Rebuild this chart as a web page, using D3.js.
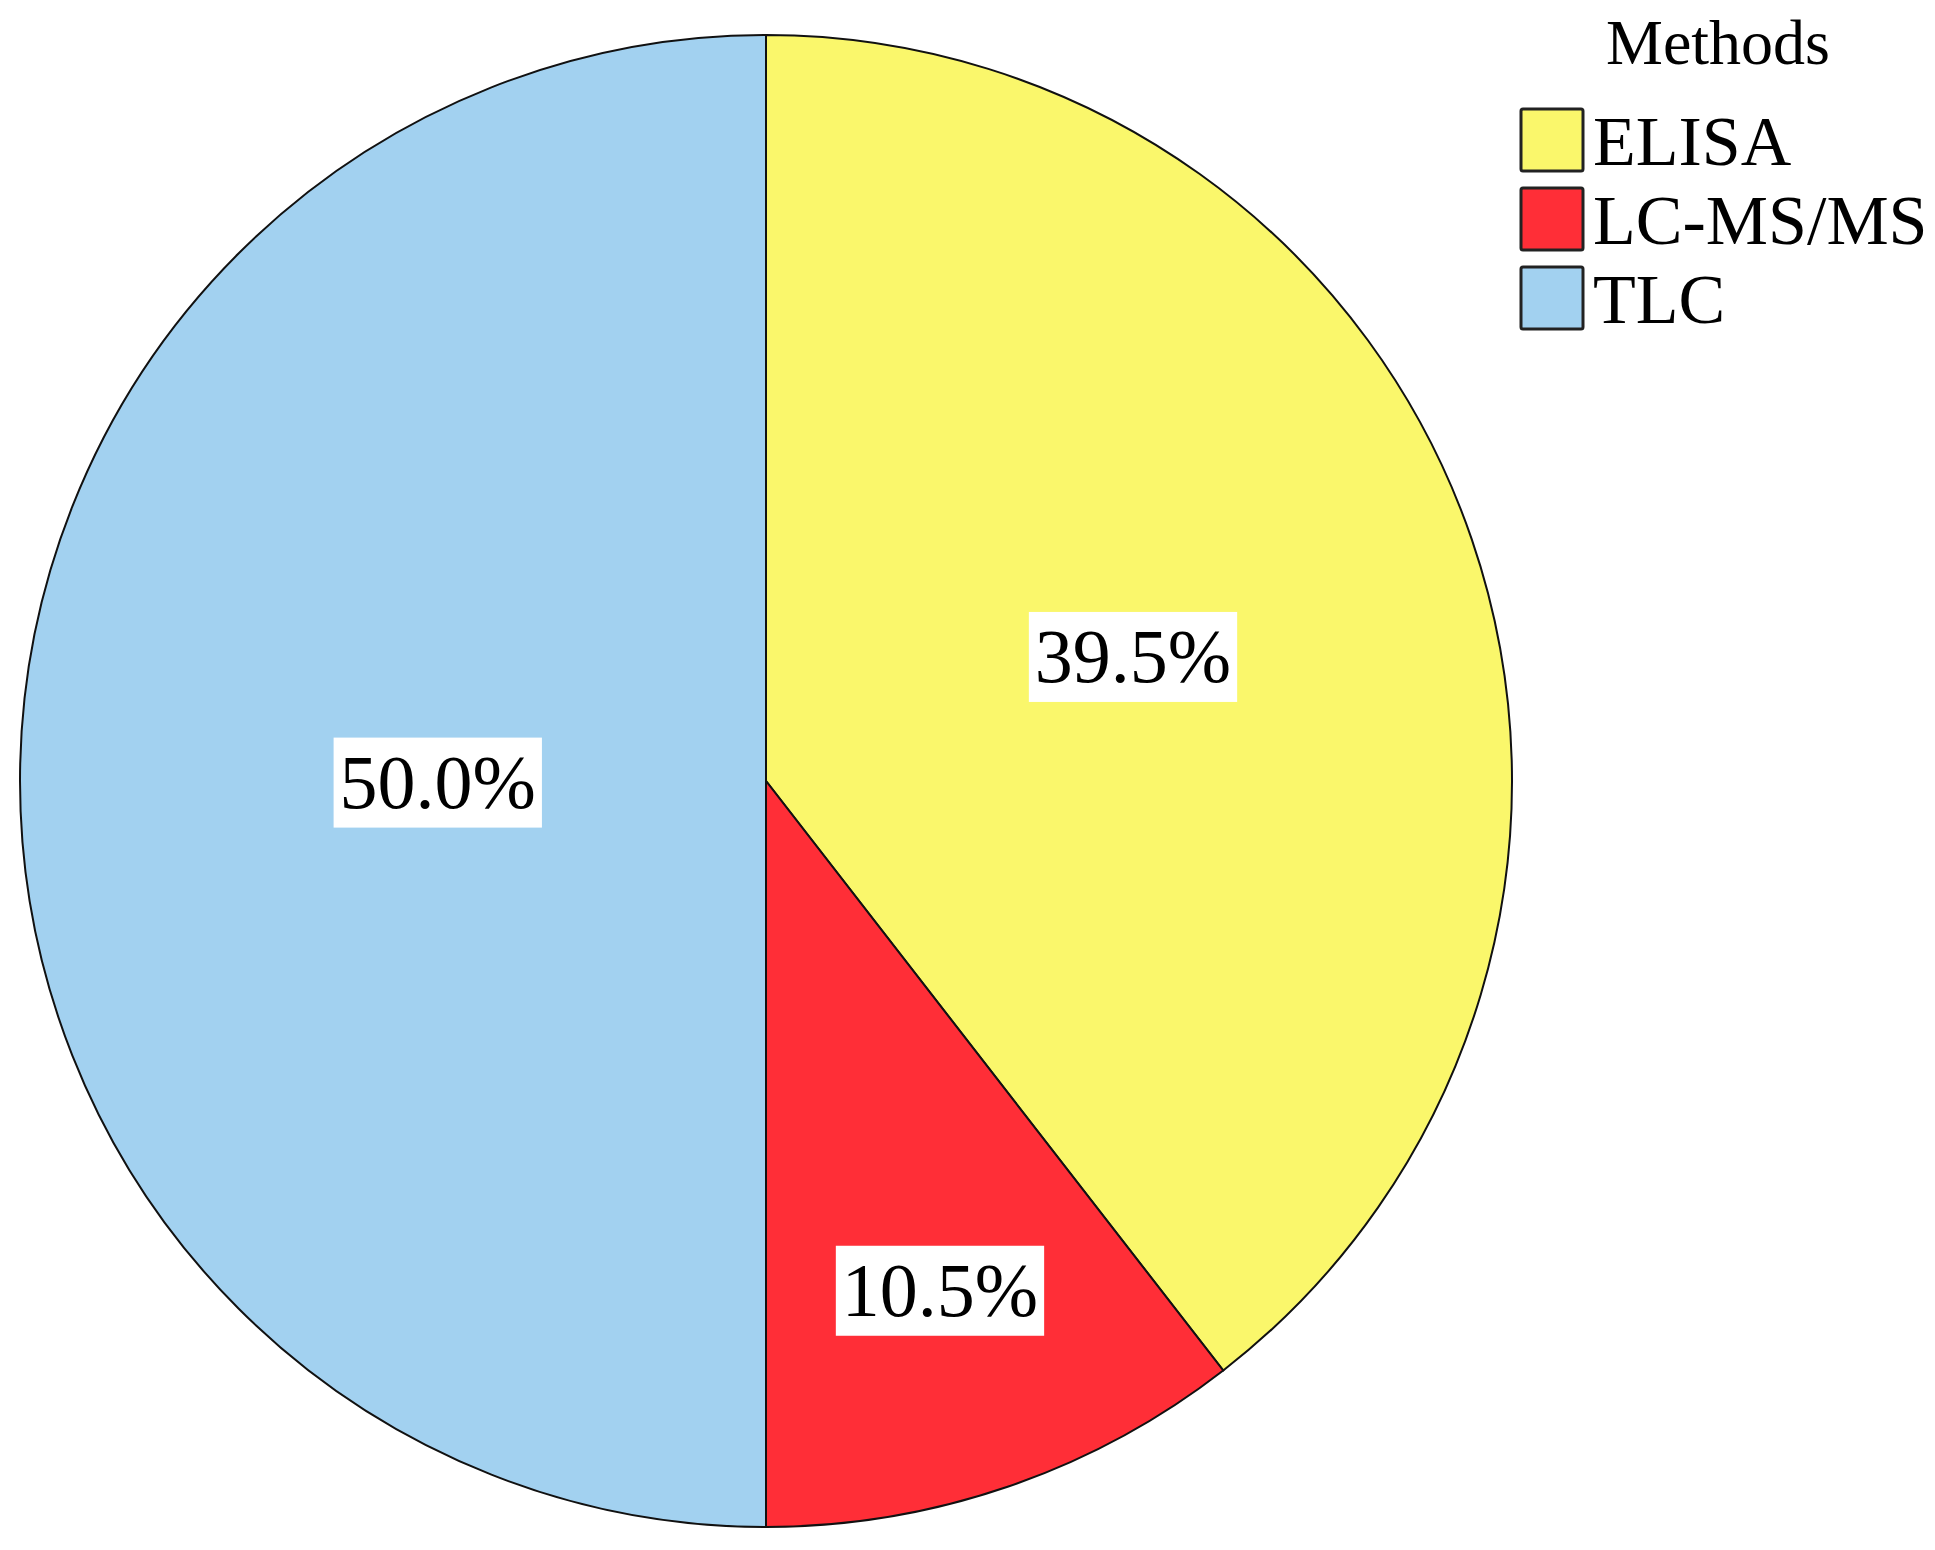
<!DOCTYPE html>
<html><head><meta charset="utf-8">
<script src="https://d3js.org/d3.v7.min.js"></script>
<style>body{margin:0;background:#fff}</style>
</head><body>
<script>
// Methods pie chart
const methods = ['ELISA', 'LC-MS/MS', 'TLC'];
const shares = [39.5, 10.5, 50.0];
const colors = ['#FAF76B', '#FF2E37', '#A2D1F0'];

const width = 1935, height = 1550;
const cx = 766, cy = 781, radius = 746;
const font = '"Liberation Serif", "Times New Roman", serif';

const svg = d3.select('body').append('svg')
    .attr('width', width)
    .attr('height', height);

const data = methods.map((m, i) => ({ method: m, value: shares[i], color: colors[i] }));
const pie = d3.pie().value(d => d.value).sort(null);
const arcs = pie(data);
const arc = d3.arc().innerRadius(0).outerRadius(radius);

const g = svg.append('g').attr('transform', `translate(${cx},${cy})`);

g.selectAll('path')
    .data(arcs)
    .join('path')
    .attr('d', arc)
    .attr('fill', d => d.data.color)
    .attr('stroke', '#111')
    .attr('stroke-width', 2);

// label positions (fraction of radius along slice bisector)
const labelRadius = [0.52, 0.72, 0.44];
const labels = g.selectAll('g.label')
    .data(arcs)
    .join('g')
    .attr('class', 'label')
    .attr('transform', (d, i) => {
        const a = (d.startAngle + d.endAngle) / 2;
        const r = radius * labelRadius[i];
        return `translate(${Math.sin(a) * r},${-Math.cos(a) * r})`;
    });

labels.each(function(d) {
    const sel = d3.select(this);
    const rect = sel.append('rect').attr('fill', '#fff');
    const t = sel.append('text')
        .attr('text-anchor', 'middle')
        .attr('dy', '0.35em')
        .style('font-family', font)
        .style('font-size', '76px')
        .text(d3.format('.1f')(d.data.value) + '%');
    const b = t.node().getBBox();
    rect.attr('x', b.x - 6).attr('y', b.y - 2)
        .attr('width', b.width + 12).attr('height', b.height + 6);
});

// legend
const legend = svg.append('g');
legend.append('text')
    .attr('x', 1718).attr('y', 64)
    .attr('text-anchor', 'middle')
    .style('font-family', font)
    .style('font-size', '64px')
    .text('Methods');

const items = legend.selectAll('g.item')
    .data(data)
    .join('g')
    .attr('class', 'item')
    .attr('transform', (d, i) => `translate(1521, ${109 + i * 79})`);

items.append('rect')
    .attr('width', 62).attr('height', 62)
    .attr('rx', 2)
    .attr('fill', d => d.color)
    .attr('stroke', '#222')
    .attr('stroke-width', 3);

items.append('text')
    .attr('x', 72).attr('y', 56)
    .style('font-family', font)
    .style('font-size', '70px')
    .text(d => d.method);
</script>
</body></html>
